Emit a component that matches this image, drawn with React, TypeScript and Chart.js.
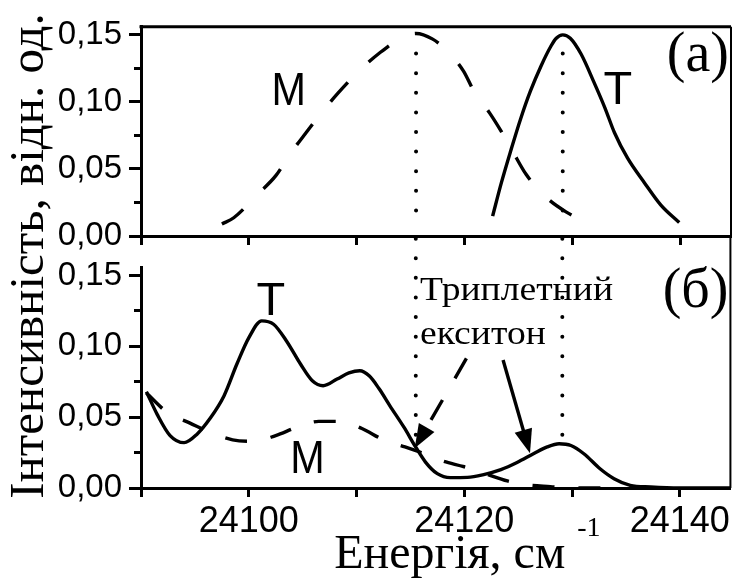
import React, { useEffect, useRef } from 'react';
import { Chart, registerables } from 'chart.js';
Chart.register(...registerables);

// ---------- data ----------
const X_MIN = 24090;
const X_MAX = 24144.7;
const Y_MAX = 0.156;

const xTickValues = [24090, 24100, 24110, 24120, 24130, 24140];
const xTickLabels = ['', '24100', '', '24120', '', '24140'];
const yTickValues = [0, 0.025, 0.05, 0.075, 0.1, 0.125, 0.15];
const yTickLabels = ['0,00', '', '0,05', '', '0,10', '', '0,15'];

// panel (a) — M (dashed)
const topM_E = [24097.5, 24098.6, 24100.8, 24102.5, 24103.9, 24105.3, 24106.8, 24108.2, 24110.2, 24112.2, 24114.0, 24115.5, 24117.0, 24118.4, 24119.9, 24120.9, 24122.3, 24123.4, 24124.4, 24125.7, 24127.4, 24129.4, 24131.4];
const topM_I = [0.009, 0.0136, 0.031, 0.045, 0.062, 0.077, 0.0925, 0.106, 0.123, 0.137, 0.147, 0.151, 0.147, 0.138, 0.123, 0.1075, 0.092, 0.078, 0.064, 0.046, 0.030, 0.018, 0.010];
// panel (a) — T (solid)
const topT_E = [24122.6, 24123.4, 24124.3, 24125.2, 24126.1, 24127.1, 24128.0, 24128.5, 24129.1, 24129.8, 24130.8, 24132.0, 24133.0, 24133.9, 24135.1, 24136.7, 24138.2, 24139.9];
const topT_I = [0.0148, 0.0394, 0.0641, 0.0875, 0.108, 0.127, 0.1415, 0.1475, 0.150, 0.1475, 0.1357, 0.1146, 0.0958, 0.077, 0.0582, 0.0394, 0.023, 0.010];

// panel (б) — T (solid)
const botT_E = [24090.5, 24091.5, 24092.7, 24094.0, 24095.2, 24096.4, 24097.7, 24098.9, 24100.0, 24101.2, 24102.3, 24103.5, 24104.8, 24105.9, 24106.9, 24108.2, 24109.3, 24110.3, 24111.2, 24112.1, 24113.1, 24114.4, 24115.5, 24116.4, 24117.5, 24118.7, 24120.3, 24121.8, 24123.4, 24124.9, 24126.5, 24127.7, 24128.8, 24129.9, 24131.1, 24132.6, 24133.9, 24135.4, 24137.3, 24140.0, 24144.7];
const botT_I = [0.068, 0.052, 0.037, 0.032, 0.038, 0.049, 0.065, 0.0875, 0.106, 0.118, 0.1156, 0.1038, 0.0875, 0.0757, 0.0722, 0.0769, 0.0812, 0.0828, 0.079, 0.070, 0.058, 0.0429, 0.0288, 0.0183, 0.0101, 0.0073, 0.0075, 0.0095, 0.013, 0.018, 0.0245, 0.029, 0.0312, 0.0300, 0.0242, 0.0136, 0.0066, 0.0019, 0.0007, 0, 0];
// panel (б) — M (dashed)
const botM_E = [24090.5, 24092.5, 24094.5, 24096.5, 24098.5, 24100.5, 24102.5, 24104.5, 24106.5, 24108.5, 24110.5, 24112.5, 24114.5, 24116.0, 24118.0, 24120.0, 24122.0, 24124.0, 24126.0, 24128.0, 24130.0, 24133.0];
const botM_I = [0.067, 0.053, 0.046, 0.039, 0.034, 0.033, 0.037, 0.043, 0.047, 0.047, 0.042, 0.034, 0.029, 0.025, 0.019, 0.015, 0.010, 0.005, 0.002, 0.001, 0, 0];

// dotted markers of the peak energies
const peakEnergies = [24115.5, 24129.1];
const dotTopSpan = [0.136, 0.011];
const dotBotSpan = [0.176, 0.037];

// annotations (data coordinates)
const topLabels = [
  { text: 'М', x: 24103.7, y: 0.0974 },
  { text: 'Т', x: 24134.2, y: 0.0981 },
];
const botLabels = [
  { text: 'Т', x: 24102.05, y: 0.1221 },
  { text: 'М', x: 24105.45, y: 0.0106 },
];
const noteLines = ['Триплетний', 'екситон'];
const noteX = 24115.9;
const noteY = [0.1327, 0.1019];
const arrowDashed = [24120.2, 0.0915, 24115.4, 0.028];
const arrowSolid = [24123.6, 0.0903, 24126.1, 0.0245];

const Y_TITLE = 'Інтенсивність, відн. од.';
const X_TITLE = 'Енергія, см';
const X_TITLE_SUP = '-1';

// ---------- helpers ----------
const SANS = "'Liberation Sans', Arial, sans-serif";
const SERIF = "'Liberation Serif', 'Times New Roman', serif";
const W = 733;
const H = 578;
const LW = 3.4;

const pts = (xs: number[], ys: number[]) => xs.map((x, i) => ({ x, y: ys[i] }));

function drawText(ctx: CanvasRenderingContext2D, text: string, x: number, y: number, font: string, align: CanvasTextAlign, scaleX = 1) {
  ctx.save();
  ctx.font = font;
  ctx.fillStyle = '#000';
  ctx.textAlign = align;
  ctx.textBaseline = 'alphabetic';
  ctx.translate(x, y);
  ctx.scale(scaleX, 1);
  ctx.fillText(text, 0, 0);
  ctx.restore();
}

function drawArrow(ctx: CanvasRenderingContext2D, x1: number, y1: number, x2: number, y2: number, dash: number[]) {
  const a = Math.atan2(y2 - y1, x2 - x1);
  const L = 24, HW = 9;
  const c = Math.cos(a), s = Math.sin(a);
  const bx = x2 - L * c, by = y2 - L * s;
  ctx.save();
  ctx.strokeStyle = '#000';
  ctx.fillStyle = '#000';
  ctx.lineWidth = LW;
  ctx.setLineDash(dash);
  ctx.beginPath();
  ctx.moveTo(x1, y1);
  ctx.lineTo(bx + 2 * c, by + 2 * s);
  ctx.stroke();
  ctx.setLineDash([]);
  ctx.beginPath();
  ctx.moveTo(x2, y2);
  ctx.lineTo(bx + HW * s, by - HW * c);
  ctx.lineTo(bx - HW * s, by + HW * c);
  ctx.closePath();
  ctx.fill();
  ctx.restore();
}

function makeScales(showLabels: boolean, xAxisHeight: number) {
  return {
    x: {
      type: 'linear',
      min: X_MIN,
      max: X_MAX,
      afterBuildTicks: (s: any) => { s.ticks = xTickValues.map((v) => ({ value: v })); },
      afterFit: (s: any) => { s.height = xAxisHeight; },
      ticks: {
        autoSkip: false,
        maxRotation: 0,
        callback: (_v: any, i: number) => (showLabels ? xTickLabels[i] : ''),
        font: { family: SANS, size: 36 },
        color: '#000',
        padding: 3,
      },
      grid: { drawOnChartArea: false, drawTicks: true, tickLength: 9, tickWidth: 3, tickColor: '#000' },
      border: { display: true, color: '#000', width: 3 },
    },
    y: {
      type: 'linear',
      min: 0,
      max: Y_MAX,
      afterBuildTicks: (s: any) => { s.ticks = yTickValues.map((v) => ({ value: v })); },
      afterFit: (s: any) => { s.width = 141; },
      ticks: {
        autoSkip: false,
        callback: (_v: any, i: number) => yTickLabels[i],
        font: { family: SANS, size: 33 },
        color: '#000',
        padding: 7,
      },
      grid: {
        drawOnChartArea: false,
        drawTicks: true,
        tickLength: 12,
        tickWidth: 3,
        tickColor: '#000',
        tickBorderDash: (ctx: any) => (yTickLabels[ctx.index] ? [] : [0, 5, 10, 100]),
      },
      border: { display: true, color: '#000', width: 3 },
    },
  };
}

const lineDs = (data: any[], dash: number[], extra: any = {}) => ({
  data,
  borderColor: '#000',
  borderWidth: LW,
  borderDash: dash,
  pointRadius: 0,
  fill: false,
  cubicInterpolationMode: 'monotone',
  ...extra,
});

const dotDs = (x: number, span: number[], clip: boolean) => ({
  data: [{ x, y: span[0] }, { x, y: span[1] }],
  borderColor: '#000',
  borderWidth: 4,
  borderDash: [0, 19.6],
  borderCapStyle: 'round',
  pointRadius: 0,
  fill: false,
  clip: clip ? undefined : false,
});

export default function App() {
  const topRef = useRef<HTMLCanvasElement>(null);
  const botRef = useRef<HTMLCanvasElement>(null);

  useEffect(() => {
    const topPlugin = {
      id: 'topAnnot',
      afterDatasetsDraw(chart: any) {
        const ctx = chart.ctx as CanvasRenderingContext2D;
        const a = chart.chartArea;
        const xs = chart.scales.x, ys = chart.scales.y;
        ctx.save();
        ctx.strokeStyle = '#000';
        ctx.lineWidth = 3;
        ctx.beginPath();
        ctx.moveTo(a.left - 1.5, a.top);
        ctx.lineTo(a.right, a.top);
        ctx.stroke();
        ctx.lineWidth = 2;
        ctx.beginPath();
        ctx.moveTo(a.right, a.top);
        ctx.lineTo(a.right, a.bottom);
        ctx.stroke();
        ctx.restore();
        topLabels.forEach((l) => {
          drawText(ctx, l.text, xs.getPixelForValue(l.x), ys.getPixelForValue(l.y), `47px ${SANS}`, 'center', l.text === 'М' ? 0.88 : 1);
        });
        drawText(ctx, '(а)', a.right - 2, a.top + 44, `56px ${SERIF}`, 'right');
      },
    };

    const botPlugin = {
      id: 'botAnnot',
      afterDatasetsDraw(chart: any) {
        const ctx = chart.ctx as CanvasRenderingContext2D;
        const a = chart.chartArea;
        const xs = chart.scales.x, ys = chart.scales.y;
        // right frame line, reaching up to panel (a)
        ctx.save();
        ctx.strokeStyle = '#000';
        ctx.lineWidth = 2;
        ctx.beginPath();
        ctx.moveTo(a.right, a.top - 31);
        ctx.lineTo(a.right, a.bottom);
        ctx.stroke();
        ctx.restore();
        botLabels.forEach((l) => {
          drawText(ctx, l.text, xs.getPixelForValue(l.x), ys.getPixelForValue(l.y), `47px ${SANS}`, 'center', l.text === 'М' ? 0.88 : 1);
        });
        drawText(ctx, '(б)', a.right - 2, a.top + 40, `56px ${SERIF}`, 'right');
        noteLines.forEach((t, i) => {
          drawText(ctx, t, xs.getPixelForValue(noteX), ys.getPixelForValue(noteY[i]), `33px ${SERIF}`, 'left', 1.14);
        });
        drawArrow(ctx, xs.getPixelForValue(arrowDashed[0]), ys.getPixelForValue(arrowDashed[1]), xs.getPixelForValue(arrowDashed[2]), ys.getPixelForValue(arrowDashed[3]), [23, 25]);
        drawArrow(ctx, xs.getPixelForValue(arrowSolid[0]), ys.getPixelForValue(arrowSolid[1]), xs.getPixelForValue(arrowSolid[2]), ys.getPixelForValue(arrowSolid[3]), []);
        // axis titles
        ctx.save();
        ctx.font = `49px ${SERIF}`;
        ctx.fillStyle = '#000';
        ctx.textAlign = 'center';
        ctx.textBaseline = 'alphabetic';
        ctx.translate(43, 256);
        ctx.rotate(-Math.PI / 2);
        ctx.fillText(Y_TITLE, 0, 0);
        ctx.restore();
        ctx.save();
        ctx.font = `48px ${SERIF}`;
        const tw = ctx.measureText(X_TITLE).width;
        const cx = (a.left + a.right) / 2 + 14;
        const x0 = cx - tw / 2;
        ctx.restore();
        drawText(ctx, X_TITLE, x0, 568, `48px ${SERIF}`, 'left');
        drawText(ctx, X_TITLE_SUP, x0 + tw + 12, 536, `28px ${SERIF}`, 'left');
      },
    };

    const top = new Chart(topRef.current as HTMLCanvasElement, {
      type: 'line',
      data: {
        datasets: [
          lineDs(pts(topM_E, topM_I), [26, 29]),
          lineDs(pts(topT_E, topT_I), []),
          ...peakEnergies.map((e) => dotDs(e, dotTopSpan, true)),
        ] as any,
      },
      options: {
        responsive: false,
        animation: false,
        events: [],
        layout: { padding: { top: 15, right: 2, left: 0, bottom: H - 236 - 14 } },
        plugins: { legend: { display: false }, tooltip: { enabled: false } },
        scales: makeScales(false, 14) as any,
      },
      plugins: [topPlugin],
    });

    const bot = new Chart(botRef.current as HTMLCanvasElement, {
      type: 'line',
      data: {
        datasets: [
          lineDs(pts(botM_E, botM_I), [22, 24]),
          lineDs(pts(botT_E, botT_I), []),
          ...peakEnergies.map((e) => dotDs(e, dotBotSpan, false)),
        ] as any,
      },
      options: {
        responsive: false,
        animation: false,
        events: [],
        layout: { padding: { top: 267, right: 2, left: 0, bottom: 0 } },
        plugins: { legend: { display: false }, tooltip: { enabled: false } },
        scales: makeScales(true, H - 488) as any,
      },
      plugins: [botPlugin],
    });

    return () => {
      top.destroy();
      bot.destroy();
    };
  }, []);

  return (
    <div style={{ position: 'absolute', left: 0, top: 0, width: W, height: H, background: '#fff', overflow: 'hidden' }}>
      <canvas ref={botRef} width={W} height={H} style={{ position: 'absolute', left: 0, top: 0 }} />
      <canvas ref={topRef} width={W} height={H} style={{ position: 'absolute', left: 0, top: 0 }} />
    </div>
  );
}
